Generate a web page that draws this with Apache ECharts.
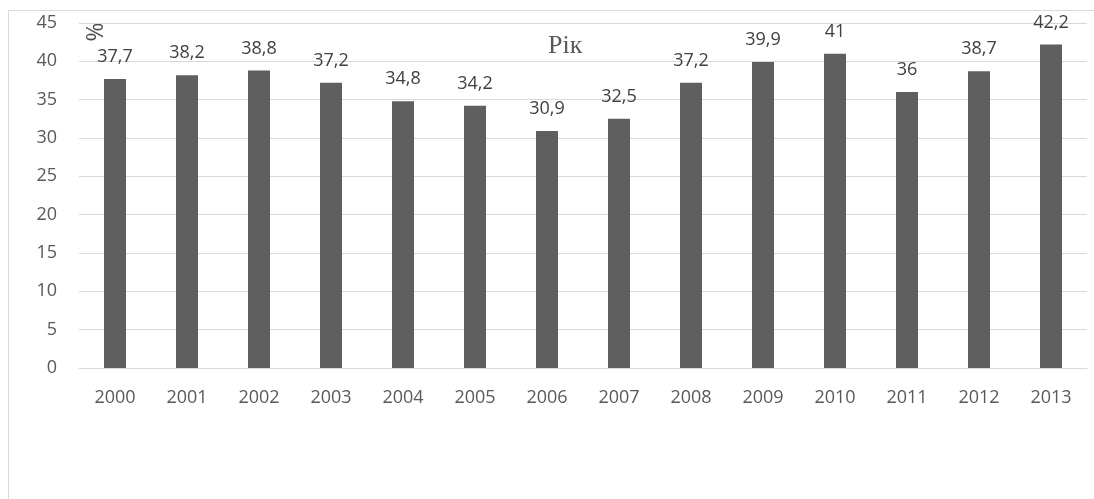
<!DOCTYPE html>
<html><head><meta charset="utf-8">
<script src="https://cdn.jsdelivr.net/npm/echarts@6/dist/echarts.min.js"></script>
<style>html,body{margin:0;padding:0;background:#fff}#c{width:1094px;height:499px}</style>
</head><body><div id="c"></div>
<script>
const categories = ['2000','2001','2002','2003','2004','2005','2006','2007','2008','2009','2010','2011','2012','2013'];
const values = [37.7,38.2,38.8,37.2,34.8,34.2,30.9,32.5,37.2,39.9,41,36,38.7,42.2];
const chart = echarts.init(document.getElementById('c'));
const font = '"Open Sans", "Liberation Sans", sans-serif';
chart.setOption({
  animation: false,
  backgroundColor: '#fff',
  grid: {left: 79, right: 7, top: 23, bottom: 131, containLabel: false},
  title: {text: 'Рік', left: 543, top: 28, textStyle: {fontFamily: '"Liberation Serif", serif', fontSize: 26, fontWeight: 'normal', color: '#595959'}},
  graphic: [
    {type: 'rect', shape: {x: 8.5, y: 10.5, width: 1200, height: 600}, style: {fill: 'none', stroke: '#d9d9d9', lineWidth: 1}, silent: true, z: -1},
    {type: 'text', x: 93, y: 32, rotation: -Math.PI/2, style: {text: '%', font: '23px ' + font, fill: '#505050', textAlign: 'center', textVerticalAlign: 'middle'}}
  ],
  xAxis: {
    type: 'category', data: categories,
    axisLine: {lineStyle: {color: '#d9d9d9'}}, axisTick: {show: false},
    axisLabel: {color: '#595959', fontSize: 18, fontFamily: font, margin: 21}
  },
  yAxis: {
    type: 'value', min: 0, max: 45, interval: 5,
    axisLine: {show: false}, axisTick: {show: false},
    splitLine: {lineStyle: {color: '#d9d9d9'}},
    axisLabel: {color: '#595959', fontSize: 18, fontFamily: font, margin: 22}
  },
  series: [{
    type: 'bar', data: values, barWidth: 22, itemStyle: {color: '#5f5f5f'},
    label: {show: true, position: 'top', distance: 13, color: '#404040', fontSize: 18, fontFamily: font,
      formatter: p => String(p.value).replace('.', ',')}
  }]
});
</script></body></html>
